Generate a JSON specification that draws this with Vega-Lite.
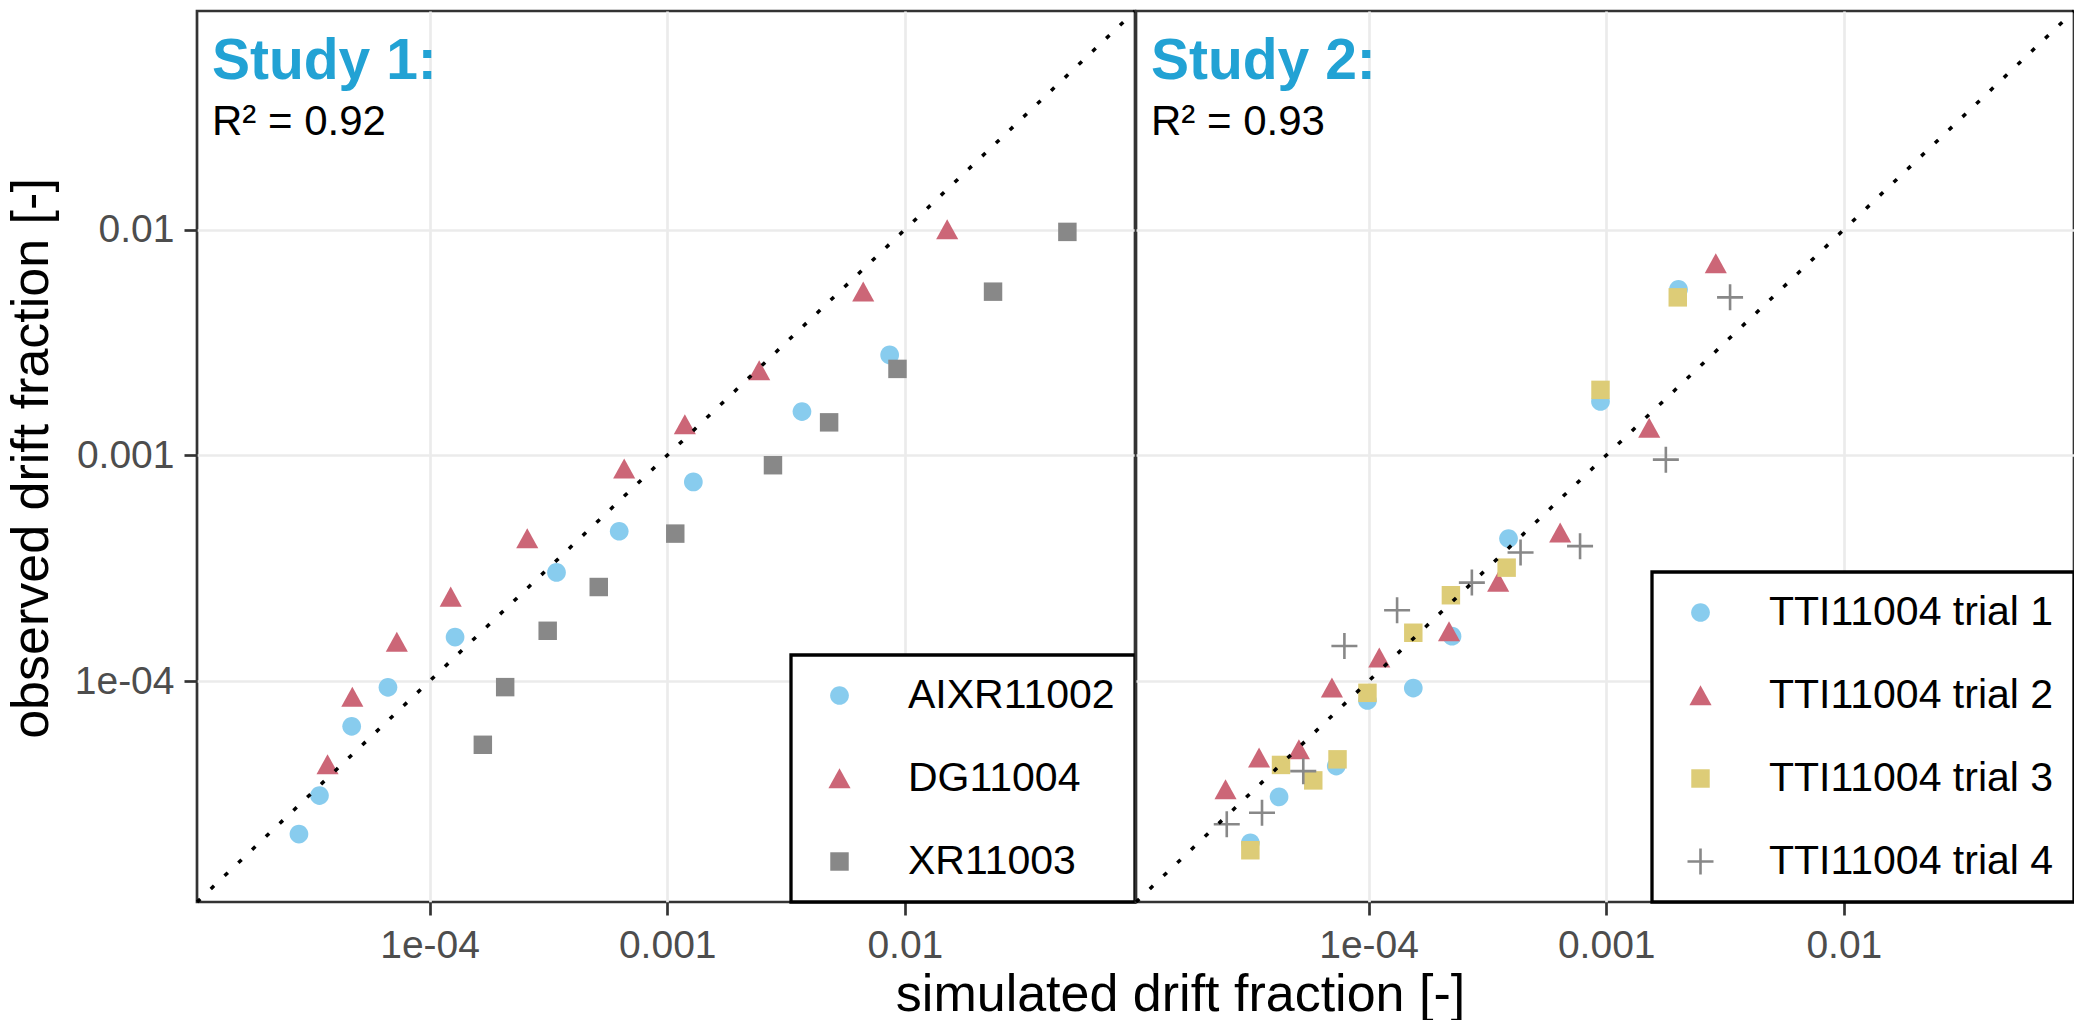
{
  "$schema": "https://vega.github.io/schema/vega-lite/v6.json",
  "padding": {"left": 3, "top": 2, "right": 2, "bottom": 2},
  "bounds": "flush",
  "spacing": 1,
  "background": "white",
  "config": {
    "font": "Liberation Sans",
    "view": {"stroke": "#333333", "strokeWidth": 2.7},
    "axis": {
      "gridColor": "#EBEBEB", "gridWidth": 2.7, "domain": false,
      "tickColor": "#333333", "tickWidth": 2.7, "tickSize": 13,
      "labelColor": "#4D4D4D", "labelFontSize": 39, "labelFont": "Liberation Sans",
      "titleFont": "Liberation Sans", "titleFontSize": 52, "titleFontWeight": "normal", "titleColor": "black"
    },
    "axisX": {"labelPadding": 11},
    "axisY": {"labelPadding": 10},
    "legend": {
      "orient": "bottom-right", "offset": 0, "title": null,
      "labelFont": "Liberation Sans", "labelFontSize": 41, "labelColor": "black", "labelLimit": 0,
      "padding": 20, "rowPadding": 41, "symbolOffset": 8, "labelOffset": 48,
      "strokeColor": "black", "strokeWidth": 3.3, "fillColor": "white",
      "symbolSize": 676, "symbolStrokeWidth": 0, "symbolOpacity": 1
    }
  },
  "datasets": {
    "s1": [
      {"series": "AIXR11002", "sim": 0.00863, "obs": 0.002786},
      {"series": "AIXR11002", "sim": 0.00369, "obs": 0.001563},
      {"series": "AIXR11002", "sim": 0.001288, "obs": 0.000762},
      {"series": "AIXR11002", "sim": 0.000628, "obs": 0.000461},
      {"series": "AIXR11002", "sim": 0.000342, "obs": 0.000303},
      {"series": "AIXR11002", "sim": 0.000128, "obs": 0.0001567},
      {"series": "AIXR11002", "sim": 0.0000668, "obs": 0.0000938},
      {"series": "AIXR11002", "sim": 0.000047, "obs": 0.000063},
      {"series": "AIXR11002", "sim": 0.0000344, "obs": 0.0000311},
      {"series": "AIXR11002", "sim": 0.0000282, "obs": 0.000021},
      {"series": "DG11004", "sim": 0.01507, "obs": 0.01},
      {"series": "DG11004", "sim": 0.00668, "obs": 0.00531},
      {"series": "DG11004", "sim": 0.002438, "obs": 0.002377},
      {"series": "DG11004", "sim": 0.001186, "obs": 0.001368},
      {"series": "DG11004", "sim": 0.000659, "obs": 0.000871},
      {"series": "DG11004", "sim": 0.0002576, "obs": 0.0004276},
      {"series": "DG11004", "sim": 0.0001227, "obs": 0.000236},
      {"series": "DG11004", "sim": 0.0000728, "obs": 0.0001489},
      {"series": "DG11004", "sim": 0.0000473, "obs": 0.0000849},
      {"series": "DG11004", "sim": 0.0000372, "obs": 0.0000427},
      {"series": "XR11003", "sim": 0.0483, "obs": 0.00977},
      {"series": "XR11003", "sim": 0.0235, "obs": 0.00531},
      {"series": "XR11003", "sim": 0.00931, "obs": 0.002415},
      {"series": "XR11003", "sim": 0.0048, "obs": 0.0014},
      {"series": "XR11003", "sim": 0.002786, "obs": 0.000904},
      {"series": "XR11003", "sim": 0.001081, "obs": 0.00045},
      {"series": "XR11003", "sim": 0.000515, "obs": 0.000261},
      {"series": "XR11003", "sim": 0.000314, "obs": 0.000167},
      {"series": "XR11003", "sim": 0.000208, "obs": 0.000094},
      {"series": "XR11003", "sim": 0.0001675, "obs": 0.0000522}
    ],
    "s2": [
      {"series": "TTI11004 trial 1", "sim": 0.002014, "obs": 0.00543},
      {"series": "TTI11004 trial 1", "sim": 0.000946, "obs": 0.001734},
      {"series": "TTI11004 trial 1", "sim": 0.000388, "obs": 0.0004276},
      {"series": "TTI11004 trial 1", "sim": 0.0002244, "obs": 0.0001581},
      {"series": "TTI11004 trial 1", "sim": 0.0001542, "obs": 0.0000931},
      {"series": "TTI11004 trial 1", "sim": 0.0000989, "obs": 0.000082},
      {"series": "TTI11004 trial 1", "sim": 0.0000731, "obs": 0.000042},
      {"series": "TTI11004 trial 1", "sim": 0.000042, "obs": 0.0000307},
      {"series": "TTI11004 trial 1", "sim": 0.0000318, "obs": 0.0000192},
      {"series": "TTI11004 trial 2", "sim": 0.002891, "obs": 0.00708},
      {"series": "TTI11004 trial 2", "sim": 0.001517, "obs": 0.001321},
      {"series": "TTI11004 trial 2", "sim": 0.00064, "obs": 0.000454},
      {"series": "TTI11004 trial 2", "sim": 0.000351, "obs": 0.000275},
      {"series": "TTI11004 trial 2", "sim": 0.000218, "obs": 0.0001656},
      {"series": "TTI11004 trial 2", "sim": 0.0001109, "obs": 0.0001268},
      {"series": "TTI11004 trial 2", "sim": 0.0000701, "obs": 0.0000933},
      {"series": "TTI11004 trial 2", "sim": 0.0000509, "obs": 0.0000498},
      {"series": "TTI11004 trial 2", "sim": 0.0000346, "obs": 0.0000457},
      {"series": "TTI11004 trial 2", "sim": 0.000025, "obs": 0.0000331},
      {"series": "TTI11004 trial 3", "sim": 0.002, "obs": 0.00501},
      {"series": "TTI11004 trial 3", "sim": 0.000946, "obs": 0.00195},
      {"series": "TTI11004 trial 3", "sim": 0.000381, "obs": 0.000318},
      {"series": "TTI11004 trial 3", "sim": 0.000222, "obs": 0.00024},
      {"series": "TTI11004 trial 3", "sim": 0.0001542, "obs": 0.0001637},
      {"series": "TTI11004 trial 3", "sim": 0.0000989, "obs": 0.0000887},
      {"series": "TTI11004 trial 3", "sim": 0.000074, "obs": 0.000045},
      {"series": "TTI11004 trial 3", "sim": 0.0000585, "obs": 0.0000363},
      {"series": "TTI11004 trial 3", "sim": 0.0000428, "obs": 0.0000425},
      {"series": "TTI11004 trial 3", "sim": 0.0000318, "obs": 0.0000178},
      {"series": "TTI11004 trial 4", "sim": 0.00332, "obs": 0.00501},
      {"series": "TTI11004 trial 4", "sim": 0.001782, "obs": 0.000957},
      {"series": "TTI11004 trial 4", "sim": 0.000776, "obs": 0.000396},
      {"series": "TTI11004 trial 4", "sim": 0.000436, "obs": 0.000371},
      {"series": "TTI11004 trial 4", "sim": 0.000272, "obs": 0.000273},
      {"series": "TTI11004 trial 4", "sim": 0.0001318, "obs": 0.000206},
      {"series": "TTI11004 trial 4", "sim": 0.0000791, "obs": 0.0001429},
      {"series": "TTI11004 trial 4", "sim": 0.0000531, "obs": 0.0000399},
      {"series": "TTI11004 trial 4", "sim": 0.0000356, "obs": 0.0000261},
      {"series": "TTI11004 trial 4", "sim": 0.0000253, "obs": 0.0000232}
    ],
    "diag": [{"v": 0.0000105}, {"v": 0.093}],
    "labels": [
      {"panel": 1, "kind": "study", "t": "Study 1:", "x": 0.00001214, "y": 0.04637},
      {"panel": 1, "kind": "r2", "t": "R² = 0.92", "x": 0.00001214, "y": 0.02619},
      {"panel": 2, "kind": "study", "t": "Study 2:", "x": 0.00001214, "y": 0.04637},
      {"panel": 2, "kind": "r2", "t": "R² = 0.93", "x": 0.00001214, "y": 0.02619}
    ]
  },
  "hconcat": [
    {
      "width": 938, "height": 891,
      "layer": [
        {
          "data": {"name": "s1"},
          "mark": {"type": "point", "filled": true, "opacity": 1, "strokeWidth": 0, "size": 676},
          "encoding": {
            "x": {"field": "sim", "type": "quantitative", "title": "simulated drift fraction [-]",
              "scale": {"type": "log", "domain": [0.0000105, 0.093], "nice": false},
              "axis": {"values": [0.0001, 0.001, 0.01], "labelExpr": "datum.value < 0.0005 ? '1e-04' : (datum.value < 0.005 ? '0.001' : '0.01')",
                "titleX": 983, "titleY": 108.5, "titleAlign": "center", "titleBaseline": "alphabetic", "titleAngle": 0}},
            "y": {"field": "obs", "type": "quantitative", "title": "observed drift fraction [-]",
              "scale": {"type": "log", "domain": [0.0000105, 0.093], "nice": false},
              "axis": {"values": [0.0001, 0.001, 0.01], "labelExpr": "datum.value < 0.0005 ? '1e-04' : (datum.value < 0.005 ? '0.001' : '0.01')",
                "titleX": -150, "titleY": 447, "titleAngle": -90, "titleAlign": "center", "titleBaseline": "alphabetic"}},
            "color": {"field": "series", "type": "nominal", "scale": {"range": ["#88CCEE", "#CC6677", "#888888"]}, "legend": {"orient": "bottom-right"}},
            "shape": {"field": "series", "type": "nominal", "scale": {"range": [
              "M0.72,0A0.72,0.72 0 1,1 -0.72,0A0.72,0.72 0 1,1 0.72,0Z",
              "M0,-0.79L0.85,0.75L-0.85,0.75Z",
              "M-0.71,-0.71L0.71,-0.71L0.71,0.71L-0.71,0.71Z"]}}
          }
        },
        {
          "data": {"name": "diag"},
          "mark": {"type": "line", "color": "black", "strokeWidth": 3.5, "strokeDash": [4.5, 14.5]},
          "encoding": {
            "x": {"field": "v", "type": "quantitative", "title": "simulated drift fraction [-]", "scale": {"type": "log", "domain": [0.0000105, 0.093], "nice": false}},
            "y": {"field": "v", "type": "quantitative", "title": "observed drift fraction [-]", "scale": {"type": "log", "domain": [0.0000105, 0.093], "nice": false}}
          }
        },
        {
          "data": {"name": "labels"},
          "transform": [{"filter": "datum.panel == 1 && datum.kind == 'study'"}],
          "mark": {"type": "text", "align": "left", "baseline": "alphabetic", "fontSize": 57, "fontWeight": "bold", "color": "#22A2D4"},
          "encoding": {
            "x": {"field": "x", "type": "quantitative", "title": "simulated drift fraction [-]", "scale": {"type": "log", "domain": [0.0000105, 0.093], "nice": false}},
            "y": {"field": "y", "type": "quantitative", "title": "observed drift fraction [-]", "scale": {"type": "log", "domain": [0.0000105, 0.093], "nice": false}},
            "text": {"field": "t"}
          }
        },
        {
          "data": {"name": "labels"},
          "transform": [{"filter": "datum.panel == 1 && datum.kind == 'r2'"}],
          "mark": {"type": "text", "align": "left", "baseline": "alphabetic", "fontSize": 42, "color": "black"},
          "encoding": {
            "x": {"field": "x", "type": "quantitative", "title": "simulated drift fraction [-]", "scale": {"type": "log", "domain": [0.0000105, 0.093], "nice": false}},
            "y": {"field": "y", "type": "quantitative", "title": "observed drift fraction [-]", "scale": {"type": "log", "domain": [0.0000105, 0.093], "nice": false}},
            "text": {"field": "t"}
          }
        }
      ]
    },
    {
      "width": 938, "height": 891,
      "layer": [
        {
          "data": {"name": "s2"},
          "mark": {"type": "point", "filled": true, "opacity": 1, "strokeWidth": 0, "size": 676},
          "encoding": {
            "x": {"field": "sim", "type": "quantitative", "title": null,
              "scale": {"type": "log", "domain": [0.0000105, 0.093], "nice": false},
              "axis": {"values": [0.0001, 0.001, 0.01], "labelExpr": "datum.value < 0.0005 ? '1e-04' : (datum.value < 0.005 ? '0.001' : '0.01')", "title": null}},
            "y": {"field": "obs", "type": "quantitative", "title": null,
              "scale": {"type": "log", "domain": [0.0000105, 0.093], "nice": false},
              "axis": {"values": [0.0001, 0.001, 0.01], "labels": false, "ticks": false, "title": null}},
            "color": {"field": "series", "type": "nominal", "scale": {"range": ["#88CCEE", "#CC6677", "#DDCC77", "#888888"]}, "legend": {"orient": "bottom-right"}},
            "shape": {"field": "series", "type": "nominal", "scale": {"range": [
              "M0.72,0A0.72,0.72 0 1,1 -0.72,0A0.72,0.72 0 1,1 0.72,0Z",
              "M0,-0.79L0.85,0.75L-0.85,0.75Z",
              "M-0.71,-0.71L0.71,-0.71L0.71,0.71L-0.71,0.71Z",
              "M-1,-0.1L-0.1,-0.1L-0.1,-1L0.1,-1L0.1,-0.1L1,-0.1L1,0.1L0.1,0.1L0.1,1L-0.1,1L-0.1,0.1L-1,0.1Z"]}}
          }
        },
        {
          "data": {"name": "diag"},
          "mark": {"type": "line", "color": "black", "strokeWidth": 3.5, "strokeDash": [4.5, 14.5]},
          "encoding": {
            "x": {"field": "v", "type": "quantitative", "title": null, "scale": {"type": "log", "domain": [0.0000105, 0.093], "nice": false}},
            "y": {"field": "v", "type": "quantitative", "title": null, "scale": {"type": "log", "domain": [0.0000105, 0.093], "nice": false}}
          }
        },
        {
          "data": {"name": "labels"},
          "transform": [{"filter": "datum.panel == 2 && datum.kind == 'study'"}],
          "mark": {"type": "text", "align": "left", "baseline": "alphabetic", "fontSize": 57, "fontWeight": "bold", "color": "#22A2D4"},
          "encoding": {
            "x": {"field": "x", "type": "quantitative", "title": null, "scale": {"type": "log", "domain": [0.0000105, 0.093], "nice": false}},
            "y": {"field": "y", "type": "quantitative", "title": null, "scale": {"type": "log", "domain": [0.0000105, 0.093], "nice": false}},
            "text": {"field": "t"}
          }
        },
        {
          "data": {"name": "labels"},
          "transform": [{"filter": "datum.panel == 2 && datum.kind == 'r2'"}],
          "mark": {"type": "text", "align": "left", "baseline": "alphabetic", "fontSize": 42, "color": "black"},
          "encoding": {
            "x": {"field": "x", "type": "quantitative", "title": null, "scale": {"type": "log", "domain": [0.0000105, 0.093], "nice": false}},
            "y": {"field": "y", "type": "quantitative", "title": null, "scale": {"type": "log", "domain": [0.0000105, 0.093], "nice": false}},
            "text": {"field": "t"}
          }
        }
      ]
    }
  ],
  "resolve": {
    "scale": {"x": "independent", "y": "independent", "color": "independent", "shape": "independent"},
    "legend": {"color": "independent", "shape": "independent"}
  }
}
